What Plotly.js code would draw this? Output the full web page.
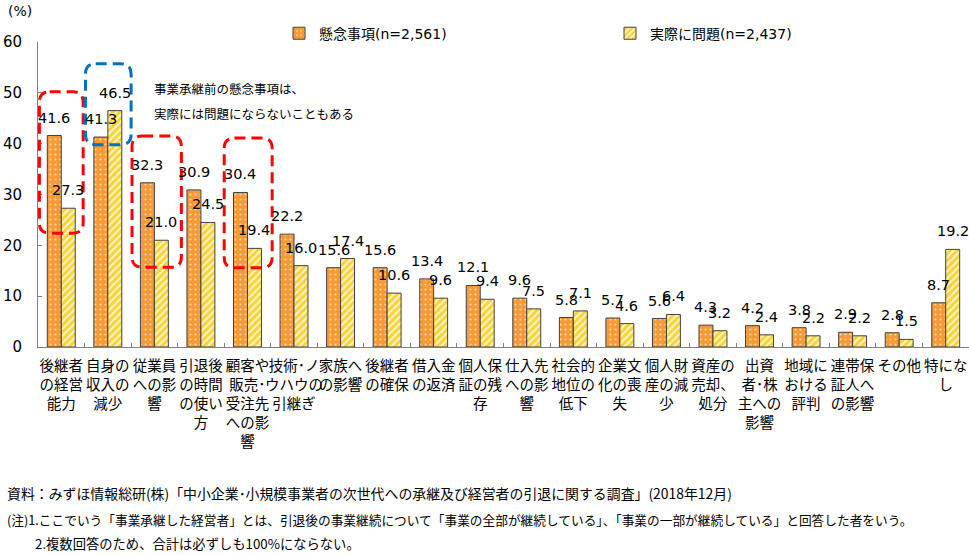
<!DOCTYPE html>
<html>
<head>
<meta charset="utf-8">
<script src="https://cdn.plot.ly/plotly-3.0.1.min.js"></script>
<style>body{margin:0;padding:0;background:#fff;}#chart{width:969px;height:555px;}</style>
</head>
<body>
<div id="chart"></div>
<script>
const categories = [
  "後継者<br>の経営<br>能力",
  "自身の<br>収入の<br>減少",
  "従業員<br>への影<br>響",
  "引退後<br>の時間<br>の使い<br>方",
  "顧客や<br>販売･<br>受注先<br>への影<br>響",
  "技術･ノ<br>ウハウの<br>引継ぎ",
  "家族へ<br>の影響",
  "後継者<br>の確保",
  "借入金<br>の返済",
  "個人保<br>証の残<br>存",
  "仕入先<br>への影<br>響",
  "社会的<br>地位の<br>低下",
  "企業文<br>化の喪<br>失",
  "個人財<br>産の減<br>少",
  "資産の<br>売却、<br>処分",
  "出資<br>者･株<br>主への<br>影響",
  "地域に<br>おける<br>評判",
  "連帯保<br>証人へ<br>の影響",
  "その他",
  "特にな<br>し"
];
const concernName = "懸念事項(n=2,561)";
const actualName = "実際に問題(n=2,437)";
const concern = [41.6, 41.3, 32.3, 30.9, 30.4, 22.2, 15.6, 15.6, 13.4, 12.1, 9.6, 5.8, 5.7, 5.6, 4.3, 4.2, 3.8, 2.9, 2.8, 8.7];
const actual  = [27.3, 46.5, 21.0, 24.5, 19.4, 16.0, 17.4, 10.6, 9.6, 9.4, 7.5, 7.1, 4.6, 6.4, 3.2, 2.4, 2.2, 2.2, 1.5, 19.2];
const yTicks = [0, 10, 20, 30, 40, 50, 60];

const FONT = "DejaVu Sans, 'Noto Sans CJK JP', sans-serif";
const JFONT = "'Noto Sans CJK JP', sans-serif";

const traces = [
  {
    type: 'bar', name: concernName, x: categories, y: concern,
    marker: {color: '#F79A35', line: {color: '#404040', width: 1},
      pattern: {shape: '.', fgcolor: '#FFD9A8', bgcolor: '#F79A35', size: 5, solidity: 0.15}},
    hoverinfo: 'y'
  },
  {
    type: 'bar', name: actualName, x: categories, y: actual,
    marker: {color: '#FFE066', line: {color: '#404040', width: 1},
      pattern: {shape: '/', fgcolor: '#FFF6C8', bgcolor: '#F9D33A', size: 5, solidity: 0.4}},
    hoverinfo: 'y'
  }
];

const annotations = [];
categories.forEach((c, i) => {
  annotations.push({x: c, y: concern[i], xref: 'x', yref: 'y', text: concern[i].toFixed(1),
    showarrow: false, yanchor: 'bottom', xshift: -7, yshift: 8,
    font: {family: FONT, size: 14.5, color: '#000'}});
  annotations.push({x: c, y: actual[i], xref: 'x', yref: 'y', text: actual[i].toFixed(1),
    showarrow: false, yanchor: 'bottom', xshift: 7, yshift: 8,
    font: {family: FONT, size: 14.5, color: '#000'}});
});
annotations.push({xref: 'paper', yref: 'paper', x: (6-38)/931, y: (347-11)/305, xanchor: 'left', yanchor: 'middle',
  text: '(%)', showarrow: false, font: {family: FONT, size: 14, color: '#000'}});
annotations.push({xref: 'paper', yref: 'paper', x: (152-38)/931, y: (347-88)/305, xanchor: 'left', yanchor: 'middle',
  text: '事業承継前の懸念事項は、', showarrow: false, font: {family: JFONT, size: 12.5, color: '#000'}});
annotations.push({xref: 'paper', yref: 'paper', x: (152-38)/931, y: (347-113)/305, xanchor: 'left', yanchor: 'middle',
  text: '実際には問題にならないこともある', showarrow: false, font: {family: JFONT, size: 12.5, color: '#000'}});
const notes = [
  ['資料：みずほ情報総研(株)「中小企業･小規模事業者の次世代への承継及び経営者の引退に関する調査」(2018年12月)', 5, 493, 13.9],
  ['(注)1.ここでいう「事業承継した経営者」とは、引退後の事業継続について「事業の全部が継続している」、「事業の一部が継続している」と回答した者をいう。', 5, 519, 12.7],
  ['2.複数回答のため、合計は必ずしも100%にならない。', 33, 543, 13.3]
];
notes.forEach(n => {
  annotations.push({xref: 'paper', yref: 'paper', x: (n[1]-38)/931, y: (347-n[2])/305, xanchor: 'left', yanchor: 'middle',
    text: n[0], showarrow: false, font: {family: JFONT, size: n[3], color: '#000'}});
});

function roundRect(x0, x1, y0, y1, color) {
  const rx = 0.22, ry = 2.0;
  const p = `M ${x0+rx},${y1} L ${x1-rx},${y1} Q ${x1},${y1} ${x1},${y1-ry} L ${x1},${y0+ry} Q ${x1},${y0} ${x1-rx},${y0} ` +
            `L ${x0+rx},${y0} Q ${x0},${y0} ${x0},${y0+ry} L ${x0},${y1-ry} Q ${x0},${y1} ${x0+rx},${y1} Z`;
  return {type: 'path', xref: 'x', yref: 'y', path: p, line: {color: color, width: 3, dash: '11px,6px'}, layer: 'above'};
}
const shapes = [
  roundRect(-0.47, 0.47, 22.4, 50.2, '#FF0000'),
  roundRect(0.52, 1.50, 39.8, 55.7, '#0070C0'),
  roundRect(1.52, 2.58, 15.7, 41.5, '#FF0000'),
  roundRect(3.50, 4.53, 15.6, 41.1, '#FF0000')
];

const layout = {
  width: 969, height: 555,
  margin: {l: 38, r: 0, t: 42, b: 208},
  paper_bgcolor: '#fff', plot_bgcolor: '#fff',
  barmode: 'group', bargap: 0.4, bargroupgap: 0,
  showlegend: true,
  legend: {orientation: 'h', x: (279-38)/931, y: 0.975, yanchor: 'bottom', xanchor: 'left',
    entrywidth: 286, entrywidthmode: 'pixels', itemwidth: 30,
    font: {family: FONT, size: 14, color: '#000'}, bgcolor: 'rgba(0,0,0,0)'},
  xaxis: {
    type: 'category', range: [-0.5, 19.5], fixedrange: true,
    showline: true, linecolor: '#808080', linewidth: 1,
    ticks: 'inside', tickson: 'boundaries', ticklen: 4, tickcolor: '#808080',
    tickfont: {family: JFONT, size: 14.5, color: '#000'}, tickangle: 0,
    ticklabelstandoff: 6, showgrid: false, zeroline: false, automargin: false
  },
  yaxis: {
    range: [0, 60], tickvals: yTicks, ticktext: yTicks.map(String), fixedrange: true,
    showline: true, linecolor: '#808080', linewidth: 1,
    ticks: 'inside', ticklen: 4, tickcolor: '#808080',
    tickfont: {family: FONT, size: 15, color: '#000'},
    ticklabelstandoff: 12, showgrid: false, zeroline: false, automargin: false
  },
  annotations: annotations,
  shapes: shapes
};

Plotly.newPlot('chart', traces, layout, {displayModeBar: false, staticPlot: true});
</script>
</body>
</html>
